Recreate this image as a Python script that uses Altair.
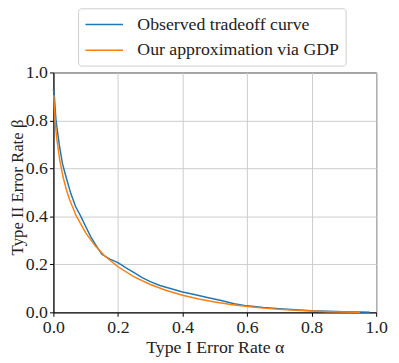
import altair as alt
import pandas as pd

# Observed tradeoff curve
alpha_obs = [0.0, 0.003, 0.008, 0.018, 0.028, 0.039, 0.054, 0.069, 0.085, 0.10,
             0.115, 0.13, 0.15, 0.175, 0.20, 0.225, 0.25, 0.275, 0.30, 0.33,
             0.365, 0.40, 0.44, 0.48, 0.52, 0.56, 0.60, 0.65, 0.70, 0.75,
             0.80, 0.85, 0.90, 0.95, 0.98]
beta_obs = [0.93, 0.90, 0.80, 0.70, 0.62, 0.565, 0.495, 0.44, 0.40, 0.358,
            0.317, 0.283, 0.242, 0.222, 0.207, 0.185, 0.166, 0.145, 0.128, 0.112,
            0.098, 0.085, 0.073, 0.061, 0.049, 0.036, 0.027, 0.020, 0.015, 0.011,
            0.007, 0.005, 0.003, 0.001, 0.0005]

# GDP approximation
alpha_gdp = [0.001, 0.005, 0.01, 0.02, 0.03, 0.04, 0.05, 0.07, 0.10, 0.13,
             0.16, 0.20, 0.25, 0.30, 0.35, 0.40, 0.45, 0.50, 0.55, 0.60,
             0.65, 0.70, 0.75, 0.80, 0.85, 0.90, 0.95]
beta_gdp = [0.905, 0.804, 0.728, 0.631, 0.564, 0.512, 0.470, 0.404, 0.331, 0.276,
            0.234, 0.190, 0.148, 0.116, 0.091, 0.071, 0.0555, 0.0427, 0.0324, 0.0242,
            0.0176, 0.0124, 0.0083, 0.0052, 0.0029, 0.0013, 0.0004]

series_names = ["Observed tradeoff curve", "Our approximation via GDP"]
ticks = [0.0, 0.2, 0.4, 0.6, 0.8, 1.0]

df = pd.concat([
    pd.DataFrame({"a": alpha_obs, "b": beta_obs, "s": series_names[0], "o": range(len(alpha_obs))}),
    pd.DataFrame({"a": alpha_gdp, "b": beta_gdp, "s": series_names[1], "o": range(len(alpha_gdp))}),
])

FONT = "Liberation Serif"

chart = alt.Chart(df).mark_line(strokeWidth=1.5).encode(
    x=alt.X("a:Q", scale=alt.Scale(domain=[0, 1], nice=False),
            axis=alt.Axis(title="Type I Error Rate α", values=ticks, format=".1f",
                          labelFlush=False, labelFont=FONT, titleFont=FONT, titlePadding=3)),
    y=alt.Y("b:Q", scale=alt.Scale(domain=[0, 1], nice=False),
            axis=alt.Axis(title="Type II Error Rate β", values=ticks, format=".1f",
                          labelFont=FONT, titleFont=FONT, titleFontSize=17,
                          titleX=-36, titleY=116, titleBaseline="middle")),
    color=alt.Color("s:N", scale=alt.Scale(domain=series_names, range=["#1f77b4", "#ff7f0e"]),
                    legend=alt.Legend(title=None, orient="none", legendX=25, legendY=-65,
                                      symbolType="M-2,0H2", symbolSize=361, symbolStrokeWidth=1.5,
                                      symbolOffset=10,
                                      labelFont=FONT, labelFontSize=18, labelColor="#222",
                                      labelLimit=400,
                                      labelOffset=23, rowPadding=6, padding=6,
                                      strokeColor="#cccccc", cornerRadius=3, fillColor="white")),
    order="o:Q",
).properties(
    width=327, height=243,
    autosize=alt.AutoSizeParams(type="none"),
    padding={"left": 46, "top": 63, "right": 15, "bottom": 48},
).configure(
    font=FONT,
).configure_view(
    stroke="black", strokeWidth=1,
).configure_axis(
    labelFont=FONT, titleFont=FONT, labelFontSize=18, titleFontSize=18,
    labelColor="#222", titleColor="#222", titleFontWeight="normal",
    domainColor="black", tickColor="black", tickSize=4, labelPadding=2,
    gridColor="#cccccc", gridWidth=1,
)

chart.save("out.html", embed_options={"renderer": "svg", "actions": False})
